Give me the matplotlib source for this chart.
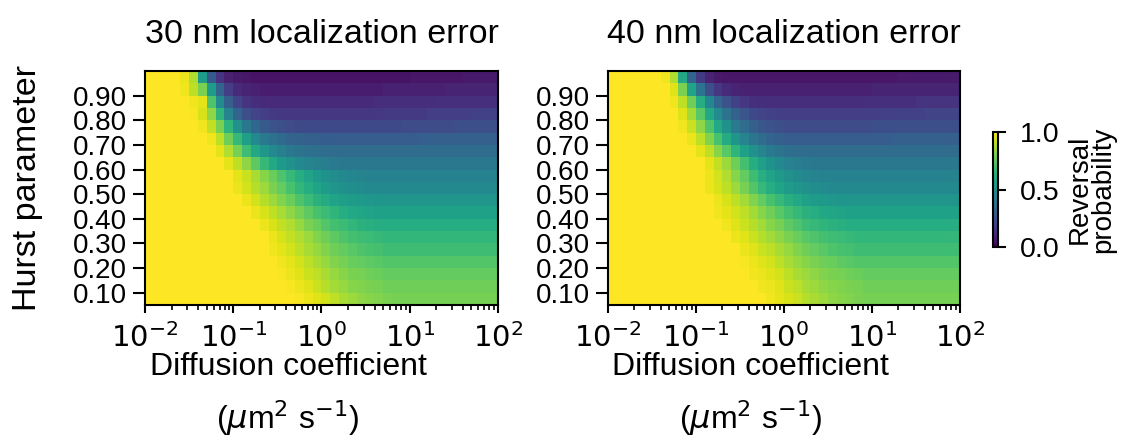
import numpy as np
import matplotlib
matplotlib.use("Agg")
import matplotlib.pyplot as plt
from matplotlib.ticker import LogLocator, NullFormatter

plt.rcParams['font.family'] = ['Liberation Sans', 'DejaVu Sans']
plt.rcParams['mathtext.fontset'] = 'dejavusans'

# ---------- data ----------
titles = ["30 nm localization error", "40 nm localization error"]
hurst_ticks = [0.10, 0.20, 0.30, 0.40, 0.50, 0.60, 0.70, 0.80, 0.90]
# cell edges: Hurst 0.05 .. 1.00 in steps of 0.05, D 1e-2 .. 1e2, 10 cells per decade
hurst_edges = np.linspace(0.05, 1.0, 20)
diff_edges = np.logspace(-2, 2, 41)
x_ticks = [1e-2, 1e-1, 1e0, 1e1, 1e2]
x_ticklabels = ["$10^{-2}$", "$10^{-1}$", "$10^{0}$", "$10^{1}$", "$10^{2}$"]
cbar_ticks = [0.0, 0.5, 1.0]

# reversal probability, rows from H=0.05 (bottom) to H=1.0 (top), 40 columns each
rev_30nm = [
    [1, 1, 1, 1, 1, 1, 1, 1, 1, 1, 1, 1, 1, 1, 1, 1, 1, .99, .97, .95, .93, .90, .87, .85, .83, .82, .81, .80, .79, .79, .79, .79, .79, .79, .79, .79, .79, .79, .79, .79],
    [1, 1, 1, 1, 1, 1, 1, 1, 1, 1, 1, 1, 1, 1, 1, 1, .99, .97, .95, .92, .89, .86, .84, .82, .81, .80, .79, .78, .78, .78, .78, .78, .78, .78, .78, .78, .78, .78, .78, .78],
    [1, 1, 1, 1, 1, 1, 1, 1, 1, 1, 1, 1, 1, 1, 1, .99, .97, .95, .92, .90, .87, .84, .82, .80, .79, .78, .77, .76, .76, .76, .76, .76, .76, .76, .76, .76, .76, .76, .76, .76],
    [1, 1, 1, 1, 1, 1, 1, 1, 1, 1, 1, 1, 1, 1, 1, .98, .96, .93, .90, .87, .84, .81, .79, .77, .76, .75, .74, .73, .73, .73, .73, .73, .73, .73, .73, .73, .73, .73, .73, .73],
    [1, 1, 1, 1, 1, 1, 1, 1, 1, 1, 1, 1, 1, 1, .98, .96, .93, .90, .87, .84, .81, .78, .76, .74, .72, .71, .70, .69, .69, .69, .69, .69, .69, .69, .69, .69, .69, .69, .69, .69],
    [1, 1, 1, 1, 1, 1, 1, 1, 1, 1, 1, 1, 1, 1, .97, .94, .91, .88, .85, .81, .78, .75, .72, .70, .69, .68, .67, .66, .66, .66, .66, .66, .66, .66, .66, .66, .66, .66, .66, .66],
    [1, 1, 1, 1, 1, 1, 1, 1, 1, 1, 1, 1, 1, .97, .94, .91, .88, .84, .80, .77, .73, .70, .68, .66, .64, .63, .62, .62, .62, .62, .62, .62, .62, .62, .62, .62, .62, .62, .62, .62],
    [1, 1, 1, 1, 1, 1, 1, 1, 1, 1, 1, 1, .97, .94, .90, .87, .83, .79, .75, .71, .68, .65, .62, .60, .59, .58, .57, .57, .57, .57, .57, .57, .57, .57, .57, .57, .57, .57, .57, .57],
    [1, 1, 1, 1, 1, 1, 1, 1, 1, 1, 1, .97, .93, .89, .85, .81, .77, .72, .68, .64, .61, .58, .56, .55, .54, .53, .52, .52, .52, .52, .52, .52, .52, .52, .52, .52, .52, .52, .52, .52],
    [1, 1, 1, 1, 1, 1, 1, 1, 1, 1, .97, .93, .89, .85, .80, .76, .71, .66, .62, .58, .55, .52, .50, .49, .48, .47, .47, .47, .47, .47, .47, .47, .47, .47, .47, .47, .47, .47, .47, .47],
    [1, 1, 1, 1, 1, 1, 1, 1, 1, 1, .96, .92, .87, .82, .77, .72, .67, .62, .58, .54, .51, .49, .47, .46, .45, .44, .44, .44, .44, .44, .44, .44, .44, .44, .44, .44, .44, .44, .44, .44],
    [1, 1, 1, 1, 1, 1, 1, 1, 1, .96, .90, .83, .75, .67, .60, .54, .50, .47, .45, .43, .42, .41, .40, .40, .40, .40, .40, .40, .40, .40, .40, .40, .40, .40, .40, .40, .40, .40, .40, .40],
    [1, 1, 1, 1, 1, 1, 1, 1, .96, .88, .79, .69, .60, .53, .47, .43, .40, .38, .37, .36, .35, .35, .35, .35, .35, .35, .35, .35, .35, .35, .35, .35, .35, .35, .35, .35, .35, .35, .35, .35],
    [1, 1, 1, 1, 1, 1, 1, .98, .90, .78, .67, .56, .47, .41, .37, .34, .32, .31, .30, .30, .29, .29, .29, .29, .29, .29, .29, .29, .29, .29, .29, .30, .30, .30, .30, .30, .30, .30, .30, .30],
    [1, 1, 1, 1, 1, 1, .98, .91, .80, .65, .50, .40, .33, .28, .25, .24, .23, .22, .22, .22, .22, .22, .22, .22, .22, .22, .22, .22, .22, .23, .23, .23, .23, .23, .23, .24, .24, .24, .24, .24],
    [1, 1, 1, 1, 1, .99, .94, .83, .65, .45, .32, .24, .20, .18, .17, .16, .16, .16, .16, .16, .16, .16, .16, .16, .16, .16, .16, .17, .17, .17, .17, .17, .18, .18, .18, .18, .18, .19, .19, .19],
    [1, 1, 1, 1, 1, .98, .96, .72, .48, .30, .20, .15, .13, .12, .12, .12, .12, .12, .12, .12, .12, .12, .12, .12, .12, .12, .13, .13, .13, .13, .13, .13, .13, .14, .14, .14, .14, .14, .14, .14],
    [1, 1, 1, 1, .98, .90, .80, .55, .32, .18, .12, .10, .09, .08, .08, .08, .08, .08, .08, .08, .08, .08, .08, .08, .08, .08, .08, .09, .09, .09, .09, .09, .09, .09, .10, .10, .10, .10, .10, .10],
    [1, 1, 1, 1, .97, .88, .55, .28, .15, .09, .07, .06, .05, .05, .05, .05, .05, .05, .05, .05, .05, .05, .05, .05, .05, .05, .05, .05, .05, .05, .06, .06, .06, .06, .06, .06, .07, .07, .07, .07],
]

rev_40nm = [
    [1, 1, 1, 1, 1, 1, 1, 1, 1, 1, 1, 1, 1, 1, 1, 1, 1, 1, .98, .96, .94, .92, .89, .87, .85, .83, .82, .81, .80, .79, .79, .79, .79, .79, .79, .79, .79, .79, .79, .79],
    [1, 1, 1, 1, 1, 1, 1, 1, 1, 1, 1, 1, 1, 1, 1, 1, 1, .98, .97, .95, .92, .90, .87, .85, .83, .82, .81, .80, .79, .78, .78, .78, .78, .78, .78, .78, .78, .78, .78, .78],
    [1, 1, 1, 1, 1, 1, 1, 1, 1, 1, 1, 1, 1, 1, 1, 1, .98, .97, .95, .93, .90, .87, .85, .83, .81, .80, .79, .78, .77, .76, .76, .76, .76, .76, .76, .76, .76, .76, .76, .76],
    [1, 1, 1, 1, 1, 1, 1, 1, 1, 1, 1, 1, 1, 1, 1, .99, .97, .95, .93, .90, .87, .84, .82, .80, .78, .77, .75, .74, .73, .73, .73, .73, .73, .73, .73, .73, .73, .73, .73, .73],
    [1, 1, 1, 1, 1, 1, 1, 1, 1, 1, 1, 1, 1, 1, 1, .97, .95, .92, .90, .87, .84, .81, .78, .76, .74, .72, .71, .70, .69, .69, .69, .69, .69, .69, .69, .69, .69, .69, .69, .69],
    [1, 1, 1, 1, 1, 1, 1, 1, 1, 1, 1, 1, 1, 1, .97, .95, .92, .89, .86, .83, .80, .77, .74, .72, .70, .69, .68, .67, .66, .66, .66, .66, .66, .66, .66, .66, .66, .66, .66, .66],
    [1, 1, 1, 1, 1, 1, 1, 1, 1, 1, 1, 1, 1, .98, .95, .92, .89, .86, .82, .79, .75, .72, .69, .67, .65, .64, .63, .62, .62, .62, .62, .62, .62, .62, .62, .62, .62, .62, .62, .62],
    [1, 1, 1, 1, 1, 1, 1, 1, 1, 1, 1, 1, .98, .96, .93, .90, .86, .82, .78, .74, .70, .67, .64, .62, .60, .59, .58, .57, .57, .57, .57, .57, .57, .57, .57, .57, .57, .57, .57, .57],
    [1, 1, 1, 1, 1, 1, 1, 1, 1, 1, 1, 1, .97, .94, .90, .86, .81, .76, .71, .67, .63, .60, .57, .55, .54, .53, .52, .52, .52, .52, .52, .52, .52, .52, .52, .52, .52, .52, .52, .52],
    [1, 1, 1, 1, 1, 1, 1, 1, 1, 1, 1, .97, .94, .90, .85, .79, .73, .67, .62, .58, .55, .52, .50, .49, .48, .47, .47, .47, .47, .47, .47, .47, .47, .47, .47, .47, .47, .47, .47, .47],
    [1, 1, 1, 1, 1, 1, 1, 1, 1, 1, 1, .97, .93, .88, .82, .76, .69, .63, .58, .54, .50, .48, .46, .45, .44, .44, .44, .44, .44, .44, .44, .44, .44, .44, .44, .44, .44, .44, .44, .44],
    [1, 1, 1, 1, 1, 1, 1, 1, 1, 1, 1, .96, .91, .85, .78, .70, .62, .56, .51, .47, .44, .42, .41, .40, .40, .40, .40, .40, .40, .40, .40, .40, .40, .40, .40, .40, .40, .40, .40, .40],
    [1, 1, 1, 1, 1, 1, 1, 1, 1, 1, .96, .90, .82, .74, .65, .57, .50, .45, .41, .38, .36, .35, .35, .35, .35, .35, .35, .35, .35, .35, .35, .35, .35, .35, .35, .35, .35, .35, .35, .35],
    [1, 1, 1, 1, 1, 1, 1, 1, 1, .97, .90, .81, .71, .61, .52, .45, .39, .35, .32, .30, .29, .29, .29, .29, .29, .29, .29, .29, .29, .29, .29, .29, .30, .30, .30, .30, .30, .30, .30, .30],
    [1, 1, 1, 1, 1, 1, 1, 1, .98, .92, .83, .72, .60, .50, .41, .35, .30, .27, .25, .24, .23, .23, .23, .23, .23, .23, .23, .23, .23, .23, .24, .24, .24, .24, .24, .24, .24, .24, .24, .24],
    [1, 1, 1, 1, 1, 1, 1, 1, .95, .86, .74, .60, .48, .38, .31, .26, .22, .20, .19, .18, .18, .18, .18, .18, .18, .18, .18, .18, .18, .18, .18, .19, .19, .19, .19, .19, .20, .20, .20, .20],
    [1, 1, 1, 1, 1, 1, 1, .98, .90, .78, .62, .46, .33, .25, .19, .16, .14, .13, .13, .13, .13, .13, .13, .13, .13, .13, .13, .13, .13, .14, .14, .14, .14, .14, .14, .15, .15, .15, .15, .15],
    [1, 1, 1, 1, 1, 1, 1, .95, .80, .58, .38, .24, .16, .12, .10, .09, .09, .09, .09, .09, .09, .09, .09, .09, .09, .09, .09, .09, .09, .09, .10, .10, .10, .10, .10, .10, .10, .10, .10, .10],
    [1, 1, 1, 1, 1, 1, .98, .88, .60, .32, .17, .10, .07, .06, .06, .06, .06, .06, .06, .06, .06, .06, .06, .06, .06, .06, .06, .06, .06, .06, .06, .06, .06, .07, .07, .07, .07, .07, .07, .07],
]

# ---------- figure ----------
fig = plt.figure(figsize=(11.28, 4.42), dpi=100)
ax1 = fig.add_axes([0.1285, 0.31, 0.313, 0.5294])
ax2 = fig.add_axes([0.539, 0.31, 0.312, 0.5294])
cax = fig.add_axes([0.880, 0.441, 0.0045, 0.26])

for ax, data, title in zip([ax1, ax2], [rev_30nm, rev_40nm], titles):
    mesh = ax.pcolormesh(diff_edges, hurst_edges, np.array(data),
                         cmap="viridis", vmin=0, vmax=1, shading="flat")
    ax.set_xscale("log")
    ax.set_xlim(1e-2, 1e2)
    ax.set_ylim(0.05, 1.0)
    ax.set_yticks(hurst_ticks)
    ax.set_yticklabels([f"{h:.2f}" for h in hurst_ticks])
    ax.set_xticks(x_ticks)
    ax.set_xticklabels(x_ticklabels)
    ax.xaxis.set_minor_locator(LogLocator(base=10, subs=np.arange(2, 10)))
    ax.xaxis.set_minor_formatter(NullFormatter())
    ax.tick_params(axis="y", which="major", length=9, width=1.5, pad=4, labelsize=20)
    ax.tick_params(axis="x", which="major", length=6, width=1.5, pad=7, labelsize=21)
    ax.tick_params(axis="x", which="minor", length=3.5, width=1.2)
    for sp in ax.spines.values():
        sp.set_linewidth(1.5)
    ax.set_title(title, fontsize=24.5, pad=20)
    ax.set_xlabel("Diffusion coefficient\n($\\mu$m$^2$ s$^{-1}$)", fontsize=23, linespacing=1.55)
    ax.xaxis.set_label_coords(0.405, -0.2)

ax1.set_ylabel("Hurst parameter", fontsize=24.5)
ax1.yaxis.set_label_coords(-0.29, 0.5)

cb = fig.colorbar(mesh, cax=cax, ticks=cbar_ticks)
cb.ax.set_yticklabels([f"{t:.1f}" for t in cbar_ticks])
cb.ax.tick_params(labelsize=20.5, length=6, width=1.5, pad=10)
cb.outline.set_linewidth(1.5)
cb.set_label("Reversal\nprobability", fontsize=20, labelpad=5, linespacing=0.9)

fig.savefig("out.png", dpi=100)
